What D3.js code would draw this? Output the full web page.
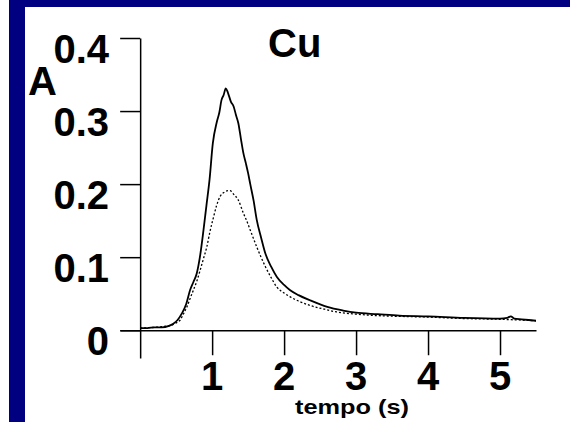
<!DOCTYPE html>
<html><head><meta charset="utf-8">
<script src="https://cdn.jsdelivr.net/npm/d3@7"></script>
<style>body{margin:0;background:#fff}svg{display:block}text{font-family:"Liberation Sans",Arial,sans-serif;font-weight:bold;fill:#000}</style>
</head><body>
<script>
const yTicks=[0,0.1,0.2,0.3,0.4];
const yTickLabels=["0","0.1","0.2","0.3","0.4"];
const xTicks=[1,2,3,4,5];
const xTickLabels=["1","2","3","4","5"];
const solidT=[0,0.1,0.2,0.3,0.4,0.46,0.52,0.58,0.64,0.694,0.74,0.787,0.83,0.88,0.92,0.963,1.01,1.065,1.10,1.13,1.16,1.19,1.22,1.26,1.30,1.33,1.365,1.40,1.435,1.47,1.50,1.53,1.575,1.62,1.68,1.74,1.82,1.90,2.0,2.08,2.2,2.36,2.6,2.82,3.0,3.3,3.6,4.0,4.5,5.0,5.1,5.15,5.2,5.3,5.5];
const solidA=[0.003,0.003,0.004,0.004,0.006,0.009,0.014,0.023,0.036,0.055,0.066,0.078,0.100,0.137,0.170,0.205,0.256,0.285,0.298,0.315,0.322,0.331,0.325,0.313,0.306,0.295,0.283,0.262,0.242,0.228,0.215,0.200,0.178,0.151,0.127,0.105,0.087,0.073,0.062,0.055,0.048,0.041,0.032,0.027,0.024,0.022,0.020,0.019,0.017,0.016,0.017,0.019,0.016,0.015,0.013];
const dotT=[0,0.4,0.5,0.556,0.6,0.65,0.70,0.74,0.79,0.833,0.88,0.926,0.97,1.02,1.06,1.11,1.17,1.22,1.25,1.30,1.365,1.435,1.48,1.53,1.62,1.68,1.74,1.82,1.90,2.0,2.08,2.2,2.36,2.55,2.73,3.0,3.3,3.6,4.0,4.5,5.0,5.5];
const dotA=[0.003,0.006,0.010,0.014,0.022,0.032,0.045,0.055,0.068,0.082,0.098,0.114,0.135,0.155,0.170,0.183,0.189,0.191,0.191,0.186,0.178,0.160,0.150,0.137,0.114,0.100,0.087,0.072,0.059,0.051,0.046,0.040,0.034,0.029,0.025,0.022,0.020,0.019,0.018,0.016,0.015,0.013];

const W=570,H=422;
const svg=d3.select("body").append("svg").attr("width",W).attr("height",H);
svg.append("rect").attr("x",9).attr("y",0).attr("width",W-9).attr("height",7).attr("fill","#000080");
svg.append("rect").attr("x",9).attr("y",0).attr("width",16).attr("height",H).attr("fill","#000080");

const x=d3.scaleLinear().domain([-0.28,5.5]).range([120,536]);
const y=d3.scaleLinear().domain([-0.038,0.4]).range([358,38]);
const x0=x(0), y0=y(0);

const gy=svg.append("g").attr("transform",`translate(${x0},0)`)
  .call(d3.axisLeft(y).tickValues(yTicks).tickSize(20).tickSizeOuter(0).tickFormat(""));
const gx=svg.append("g").attr("transform",`translate(0,${y0})`)
  .call(d3.axisBottom(x).tickValues(xTicks).tickSize(25).tickSizeOuter(0).tickFormat(""));
[gy,gx].forEach(g=>{g.selectAll("path,line").attr("stroke","#000").attr("stroke-width",1.5);});

svg.selectAll(".yl").data(yTicks).enter().append("text")
  .attr("x",109).attr("y",d=>y(d)+25).attr("text-anchor","end").attr("font-size",40)
  .text((d,i)=>yTickLabels[i]);
svg.selectAll(".xl").data(xTicks).enter().append("text")
  .attr("x",d=>x(d)).attr("y",390).attr("text-anchor","middle").attr("font-size",40)
  .text((d,i)=>xTickLabels[i]);

svg.append("text").attr("x",28).attr("y",95).attr("font-size",40).text("A");
svg.append("text").attr("x",268).attr("y",57).attr("font-size",40).text("Cu");
svg.append("text").attr("x",295).attr("y",414).attr("font-size",21)
  .attr("textLength",114).attr("lengthAdjust","spacingAndGlyphs").text("tempo (s)");

const line=d3.line().x(d=>x(d[0])).y(d=>y(d[1])).curve(d3.curveMonotoneX);
svg.append("path").datum(dotT.map((t,i)=>[t,dotA[i]])).attr("d",line)
  .attr("fill","none").attr("stroke","#000").attr("stroke-width",1.3).attr("stroke-dasharray","2,2");
svg.append("path").datum(solidT.map((t,i)=>[t,solidA[i]])).attr("d",line)
  .attr("fill","none").attr("stroke","#000").attr("stroke-width",1.8);
</script>
</body></html>
